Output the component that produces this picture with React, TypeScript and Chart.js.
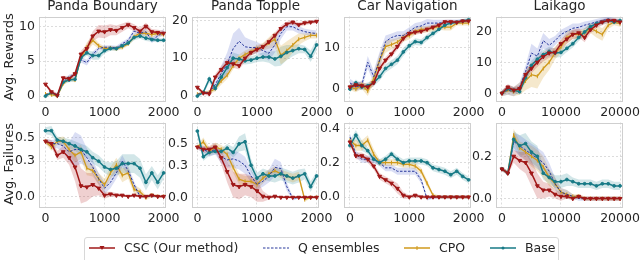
import React, { useEffect, useRef } from "react";
import { Chart, registerables } from "chart.js";
Chart.register(...registerables);

// ---------- data ----------
const STEPS = [0, 100, 200, 300, 400, 500, 600, 700, 800, 900, 1000, 1100, 1200, 1300, 1400, 1500, 1600, 1700, 1800, 1900, 2000];
const STEPS_LAIKAGO = [0, 1000, 2000, 3000, 4000, 5000, 6000, 7000, 8000, 9000, 10000, 11000, 12000, 13000, 14000, 15000, 16000, 17000, 18000, 19000, 20000];
const TITLES = ["Panda Boundary", "Panda Topple", "Car Navigation", "Laikago"];
const SERIES_NAMES = ["CSC (Our method)", "Q ensembles", "CPO", "Base"];
const ROW_LABELS = ["Avg. Rewards", "Avg. Failures"];

const X_TICKS = [0, 1000, 2000];
const X_TICKS_LAIKAGO = [0, 10000, 20000];
const Y_TICKS_BOUNDARY_REW = [0, 5, 10];
const Y_TICKS_TOPPLE_REW = [0, 10, 20];
const Y_TICKS_CAR_REW = [0, 10];
const Y_TICKS_LAIKAGO_REW = [0, 10, 20];
const Y_TICKS_BOUNDARY_FAIL = [0, 0.3, 0.5];
const Y_TICKS_TOPPLE_FAIL = [0, 0.3, 0.5];
const Y_TICKS_CAR_FAIL = [0, 0.2, 0.4];
const Y_TICKS_LAIKAGO_FAIL = [0, 0.2];

// Panda Boundary rewards
const boundaryRewCSC = [1.7, 0.6, 0.1, 2.6, 2.5, 3.2, 6.0, 6.8, 8.6, 9.3, 9.2, 9.5, 9.4, 9.8, 10.2, 9.8, 9.3, 10.0, 9.2, 9.1, 9.0];
const boundaryRewQ = [0.2, 0.5, 0.2, 2.0, 2.8, 3.0, 5.2, 4.8, 6.0, 6.8, 7.0, 7.0, 6.9, 7.5, 8.0, 9.3, 9.0, 9.2, 8.0, 8.6, 9.2];
const boundaryRewCPO = [0.3, 0.2, 0.0, 1.8, 2.5, 2.3, 5.5, 7.0, 8.0, 7.2, 6.8, 6.9, 6.8, 7.0, 7.5, 8.5, 9.0, 9.0, 8.8, 9.0, 8.8];
const boundaryRewBase = [0.0, 0.5, 0.1, 2.0, 2.3, 2.4, 5.5, 6.2, 5.8, 5.8, 6.5, 6.8, 6.8, 7.2, 7.6, 8.4, 8.6, 8.3, 8.1, 8.0, 8.0];
const boundaryRewCSCBand = [0.2, 0.3, 0.3, 0.3, 0.3, 0.4, 0.5, 0.6, 0.7, 0.9, 0.9, 0.8, 0.7, 0.6, 0.5, 0.5, 0.5, 0.5, 0.4, 0.4, 0.4];
const boundaryRewQBand = [0.1, 0.2, 0.2, 0.3, 0.3, 0.3, 0.4, 0.4, 0.4, 0.3, 0.3, 0.3, 0.3, 0.3, 0.3, 0.4, 0.4, 0.4, 0.4, 0.4, 0.4];
const boundaryRewCPOBand = [0.1, 0.2, 0.2, 0.3, 0.3, 0.3, 0.4, 0.7, 0.6, 0.4, 0.3, 0.3, 0.3, 0.3, 0.3, 0.4, 0.4, 0.4, 0.4, 0.4, 0.3];
const boundaryRewBaseBand = [0.1, 0.2, 0.2, 0.3, 0.3, 0.3, 0.4, 0.4, 0.6, 0.6, 0.4, 0.3, 0.3, 0.3, 0.3, 0.4, 0.4, 0.4, 0.3, 0.3, 0.3];

// Panda Topple rewards
const toppleRewCSC = [2.3, 0.8, 0.6, 5.0, 7.0, 8.8, 8.5, 8.0, 10.0, 11.5, 12.3, 13.0, 14.3, 16.0, 17.8, 19.0, 19.5, 18.8, 19.3, 19.5, 19.7];
const toppleRewQ = [0.5, 0.8, 1.0, 3.0, 6.0, 8.5, 12.5, 14.5, 13.0, 12.8, 12.8, 12.0, 11.3, 13.5, 16.5, 18.3, 18.3, 17.5, 17.0, 16.7, 16.5];
const toppleRewCPO = [0.5, 1.0, 1.0, 2.0, 4.0, 5.5, 8.0, 10.0, 11.0, 11.7, 12.5, 13.0, 14.0, 15.0, 10.8, 12.0, 13.5, 15.0, 15.5, 16.0, 16.0];
const toppleRewBase = [0.0, 1.0, 4.5, 2.0, 5.0, 7.5, 10.0, 9.8, 9.3, 9.5, 10.0, 10.3, 10.3, 9.8, 10.5, 11.5, 12.0, 12.5, 12.3, 10.5, 13.5];
const toppleRewCSCBand = [0.5, 0.5, 0.5, 0.8, 1, 1, 1, 1, 1, 0.8, 0.8, 0.8, 0.8, 0.8, 0.8, 0.6, 0.6, 0.6, 0.6, 0.5, 0.5];
const toppleRewQBand = [0.3, 0.3, 0.5, 1, 2, 3, 4, 3.5, 2.5, 2, 1.5, 1.5, 2, 2, 1.5, 1, 1, 1, 0.8, 0.8, 0.8];
const toppleRewCPOBand = [0.3, 0.3, 0.5, 0.8, 1, 1, 1, 1, 1, 1, 1, 1, 1.5, 2, 2.5, 2.5, 2, 1.5, 1, 0.8, 0.8];
const toppleRewBaseBand = [0.3, 0.5, 1, 0.8, 1, 1.5, 1.5, 1.2, 1, 1, 1, 1.2, 1.5, 2, 2.5, 2, 1.5, 1.2, 1, 1.5, 1.5];

// Car Navigation rewards
const carRewCSC = [0.5, 1.0, 0.8, 0.5, 1.5, 5.0, 7.0, 8.5, 10.3, 12.3, 13.5, 13.8, 14.0, 14.5, 15.0, 15.5, 16.3, 16.3, 16.2, 16.5, 16.5];
const carRewQ = [1.5, 0.5, 1.0, 6.5, 3.0, 7.0, 11.5, 12.5, 13.0, 13.0, 14.0, 15.0, 15.3, 16.0, 16.0, 16.0, 16.2, 16.3, 16.4, 16.5, 16.5];
const carRewCPO = [0.5, 0.0, 1.0, -0.5, 2.5, 7.0, 10.3, 10.8, 11.4, 12.5, 13.0, 14.0, 14.5, 14.5, 14.8, 15.2, 15.0, 15.0, 16.0, 16.0, 16.0];
const carRewBase = [0.0, 1.5, 0.5, 0.8, 1.5, 3.0, 5.0, 6.0, 7.0, 9.0, 10.5, 11.5, 11.3, 12.5, 13.5, 14.5, 15.5, 16.0, 16.2, 16.5, 16.8];
const carRewCSCBand = [0.8, 0.8, 0.8, 0.8, 0.8, 0.8, 0.8, 0.8, 0.8, 0.8, 0.6, 0.6, 0.6, 0.6, 0.5, 0.5, 0.5, 0.5, 0.4, 0.4, 0.4];
const carRewQBand = [1, 1, 1, 1.5, 1.5, 2, 1.5, 1, 1, 1, 1, 1, 1, 1, 0.8, 0.8, 0.6, 0.6, 0.5, 0.5, 0.5];
const carRewCPOBand = [0.8, 0.8, 1, 1.2, 1.2, 1.5, 1.5, 1.2, 1, 1, 1, 0.8, 0.8, 0.8, 0.8, 0.8, 0.8, 0.8, 0.6, 0.6, 0.6];
const carRewBaseBand = [0.8, 0.8, 0.8, 0.8, 0.8, 1, 1, 1, 1, 1, 0.8, 0.8, 0.8, 0.8, 0.8, 0.6, 0.6, 0.6, 0.5, 0.5, 0.5];

// Laikago rewards
const laikagoRewCSC = [0.0, 2.0, 1.0, 1.5, 6.0, 8.0, 10.0, 11.8, 13.0, 13.2, 16.0, 17.5, 19.0, 19.5, 18.0, 20.5, 22.0, 23.0, 23.5, 23.5, 23.0];
const laikagoRewQ = [0.0, 1.0, 0.5, 2.0, 7.0, 13.0, 12.0, 17.0, 15.5, 17.0, 19.0, 20.0, 21.0, 21.3, 22.0, 22.5, 23.0, 23.5, 24.0, 23.5, 23.0];
const laikagoRewCPO = [0.0, 1.0, 0.5, 1.5, 4.0, 6.0, 5.5, 8.0, 10.0, 13.0, 15.0, 18.0, 19.0, 19.0, 19.5, 21.0, 20.0, 19.0, 22.0, 23.0, 22.5];
const laikagoRewBase = [0.0, 1.5, 1.0, 0.5, 5.0, 9.0, 11.0, 12.5, 13.5, 13.0, 13.2, 14.5, 16.0, 18.0, 19.8, 21.5, 22.5, 23.0, 23.5, 23.0, 23.5];
const laikagoRewCSCBand = [0.8, 1, 1, 1, 1.5, 1.5, 1.5, 1.5, 1.5, 1.5, 1.5, 1.5, 1.5, 1.5, 1.5, 1.2, 1, 1, 0.8, 0.8, 0.8];
const laikagoRewQBand = [1, 1.5, 1.5, 1.5, 2, 3, 2.5, 2.5, 2, 1.5, 1.5, 1.5, 1.5, 1.2, 1.2, 1, 1, 1, 0.8, 0.8, 0.8];
const laikagoRewCPOBand = [1, 1.5, 1.5, 2, 3, 4, 4, 3, 2.5, 2, 2, 2, 1.5, 1.5, 1.5, 1.5, 2, 2, 1.2, 1, 1];
const laikagoRewBaseBand = [0.8, 1, 1, 1, 1.5, 1.5, 1.5, 1.5, 1.5, 1.5, 1.5, 1.2, 1.2, 1.2, 1.2, 1, 1, 0.8, 0.8, 0.8, 0.8];

// Panda Boundary failures
const boundaryFailCSC = [0.47, 0.45, 0.35, 0.38, 0.33, 0.25, 0.09, 0.08, 0.10, 0.07, 0.01, 0.02, 0.01, 0.01, 0.00, 0.01, 0.00, 0.00, 0.01, 0.00, 0.00];
const boundaryFailQ = [0.47, 0.45, 0.45, 0.43, 0.38, 0.40, 0.40, 0.33, 0.25, 0.15, 0.07, 0.12, 0.20, 0.30, 0.22, 0.10, 0.00, 0.00, 0.00, 0.00, 0.00];
const boundaryFailCPO = [0.47, 0.42, 0.47, 0.47, 0.40, 0.35, 0.38, 0.24, 0.22, 0.15, 0.10, 0.20, 0.27, 0.18, 0.20, 0.06, 0.04, -0.01, 0.01, 0.00, 0.00];
const boundaryFailBase = [0.56, 0.56, 0.48, 0.47, 0.45, 0.43, 0.40, 0.38, 0.33, 0.30, 0.25, 0.23, 0.24, 0.28, 0.28, 0.28, 0.24, 0.12, 0.20, 0.12, 0.20];
const boundaryFailCSCBand = [0.02, 0.03, 0.04, 0.05, 0.06, 0.12, 0.15, 0.12, 0.1, 0.06, 0.03, 0.02, 0.02, 0.01, 0.01, 0.01, 0.01, 0.01, 0.01, 0.01, 0.01];
const boundaryFailQBand = [0.02, 0.03, 0.04, 0.05, 0.08, 0.15, 0.12, 0.08, 0.06, 0.05, 0.05, 0.05, 0.05, 0.05, 0.04, 0.03, 0.02, 0.01, 0.01, 0.01, 0.01];
const boundaryFailCPOBand = [0.02, 0.03, 0.03, 0.04, 0.05, 0.06, 0.06, 0.06, 0.05, 0.05, 0.05, 0.05, 0.06, 0.06, 0.05, 0.04, 0.03, 0.02, 0.02, 0.01, 0.01];
const boundaryFailBaseBand = [0.03, 0.04, 0.03, 0.03, 0.04, 0.04, 0.05, 0.05, 0.05, 0.05, 0.05, 0.06, 0.06, 0.08, 0.08, 0.08, 0.08, 0.07, 0.06, 0.06, 0.05];

// Panda Topple failures
const toppleFailCSC = [0.47, 0.45, 0.45, 0.47, 0.37, 0.24, 0.12, 0.10, 0.12, 0.10, 0.06, 0.01, 0.00, 0.01, 0.00, 0.00, 0.00, 0.00, 0.00, 0.00, 0.00];
const toppleFailQ = [0.47, 0.45, 0.42, 0.45, 0.38, 0.35, 0.36, 0.34, 0.30, 0.20, 0.12, 0.15, 0.20, 0.28, 0.27, 0.10, -0.01, 0.00, 0.00, 0.00, 0.00];
const toppleFailCPO = [0.47, 0.52, 0.43, 0.47, 0.45, 0.40, 0.28, 0.17, 0.15, 0.15, 0.12, 0.18, 0.22, 0.25, 0.22, 0.20, 0.18, 0.20, -0.02, 0.00, 0.00];
const toppleFailBase = [0.62, 0.38, 0.42, 0.43, 0.43, 0.46, 0.42, 0.50, 0.52, 0.30, 0.18, 0.22, 0.20, 0.20, 0.22, 0.20, 0.18, 0.20, 0.22, 0.10, 0.20];
const toppleFailCSCBand = [0.02, 0.03, 0.03, 0.04, 0.06, 0.1, 0.12, 0.12, 0.1, 0.1, 0.1, 0.05, 0.02, 0.01, 0.01, 0.01, 0.01, 0.01, 0.01, 0.01, 0.01];
const toppleFailQBand = [0.02, 0.03, 0.04, 0.05, 0.06, 0.07, 0.08, 0.08, 0.08, 0.06, 0.05, 0.05, 0.06, 0.08, 0.06, 0.04, 0.02, 0.01, 0.01, 0.01, 0.01];
const toppleFailCPOBand = [0.02, 0.04, 0.04, 0.04, 0.04, 0.05, 0.05, 0.05, 0.05, 0.05, 0.05, 0.05, 0.04, 0.04, 0.04, 0.04, 0.04, 0.04, 0.02, 0.01, 0.01];
const toppleFailBaseBand = [0.05, 0.04, 0.03, 0.03, 0.03, 0.04, 0.05, 0.07, 0.08, 0.06, 0.05, 0.05, 0.05, 0.06, 0.06, 0.06, 0.06, 0.06, 0.05, 0.05, 0.04];

// Car Navigation failures
const carFailCSC = [0.32, 0.24, 0.24, 0.22, 0.18, 0.12, 0.10, 0.08, 0.05, 0.01, 0.00, 0.01, 0.00, 0.00, 0.00, 0.00, 0.00, 0.00, 0.00, 0.00, 0.00];
const carFailQ = [0.35, 0.25, 0.22, 0.22, 0.22, 0.20, 0.17, 0.17, 0.15, 0.15, 0.15, 0.15, 0.10, -0.01, 0.00, 0.00, 0.00, 0.00, 0.00, 0.00, 0.00];
const carFailCPO = [0.33, 0.30, 0.30, 0.33, 0.25, 0.20, 0.20, 0.20, 0.20, 0.19, 0.19, 0.18, 0.15, 0.08, 0.01, 0.00, 0.00, 0.00, 0.00, 0.00, 0.00];
const carFailBase = [0.30, 0.36, 0.30, 0.27, 0.22, 0.20, 0.22, 0.25, 0.22, 0.20, 0.21, 0.21, 0.21, 0.20, 0.17, 0.16, 0.15, 0.13, 0.15, 0.12, 0.10];
const carFailCSCBand = [0.02, 0.02, 0.02, 0.02, 0.02, 0.02, 0.02, 0.02, 0.03, 0.02, 0.01, 0.01, 0.01, 0.01, 0.01, 0.01, 0.01, 0.01, 0.01, 0.01, 0.01];
const carFailQBand = [0.02, 0.02, 0.02, 0.02, 0.02, 0.02, 0.02, 0.02, 0.02, 0.02, 0.02, 0.02, 0.02, 0.01, 0.01, 0.01, 0.01, 0.01, 0.01, 0.01, 0.01];
const carFailCPOBand = [0.02, 0.03, 0.03, 0.03, 0.03, 0.02, 0.02, 0.02, 0.02, 0.02, 0.02, 0.02, 0.02, 0.02, 0.01, 0.01, 0.01, 0.01, 0.01, 0.01, 0.01];
const carFailBaseBand = [0.03, 0.03, 0.03, 0.02, 0.02, 0.02, 0.02, 0.02, 0.02, 0.02, 0.02, 0.02, 0.02, 0.02, 0.02, 0.02, 0.02, 0.02, 0.02, 0.02, 0.02];

// Laikago failures
const laikagoFailCSC = [0.14, 0.12, 0.20, 0.18, 0.17, 0.12, 0.06, 0.04, 0.04, 0.02, 0.01, 0.01, 0.00, 0.01, 0.00, 0.00, 0.00, 0.00, 0.00, 0.00, 0.00];
const laikagoFailQ = [0.14, 0.12, 0.27, 0.25, 0.23, 0.21, 0.19, 0.17, 0.13, 0.07, 0.03, 0.02, 0.01, 0.00, 0.00, 0.00, 0.00, 0.00, 0.00, 0.00, 0.00];
const laikagoFailCPO = [0.14, 0.12, 0.30, 0.24, 0.22, 0.20, 0.18, 0.15, 0.10, 0.07, 0.03, 0.02, 0.01, 0.01, 0.00, 0.00, 0.00, 0.00, 0.00, 0.00, 0.00];
const laikagoFailBase = [0.14, 0.12, 0.28, 0.25, 0.26, 0.22, 0.20, 0.12, 0.10, 0.08, 0.08, 0.09, 0.08, 0.07, 0.07, 0.07, 0.06, 0.07, 0.07, 0.06, 0.06];
const laikagoFailCSCBand = [0.01, 0.01, 0.03, 0.04, 0.05, 0.06, 0.06, 0.04, 0.03, 0.02, 0.02, 0.01, 0.01, 0.01, 0.01, 0.01, 0.01, 0.01, 0.01, 0.01, 0.01];
const laikagoFailQBand = [0.01, 0.01, 0.04, 0.05, 0.05, 0.05, 0.05, 0.05, 0.04, 0.03, 0.02, 0.02, 0.01, 0.01, 0.01, 0.01, 0.01, 0.01, 0.01, 0.01, 0.01];
const laikagoFailCPOBand = [0.01, 0.01, 0.03, 0.03, 0.04, 0.05, 0.05, 0.05, 0.04, 0.03, 0.02, 0.02, 0.01, 0.01, 0.01, 0.01, 0.01, 0.01, 0.01, 0.01, 0.01];
const laikagoFailBaseBand = [0.01, 0.01, 0.04, 0.05, 0.05, 0.05, 0.05, 0.03, 0.03, 0.03, 0.03, 0.03, 0.02, 0.02, 0.02, 0.02, 0.02, 0.02, 0.02, 0.02, 0.02];

// ---------- styling ----------
const FONT = "'DejaVu Sans', sans-serif";
const TEXT = "#262626";
const COLORS = ["#a01818", "#28389c", "#d09a1c", "#177a86"];
const BAND_COLORS = ["rgba(180,40,40,0.22)", "rgba(70,90,200,0.2)", "rgba(215,165,50,0.25)", "rgba(30,130,140,0.2)"];

type Panel = {
  steps: number[];
  means: number[][];
  bands: number[][];
  xMin: number; xMax: number; xTicks: number[];
  yMin: number; yMax: number; yTicks: number[];
  dec: number;
};

const P = (steps, means, bands, xMin, xMax, xTicks, yMin, yMax, yTicks, dec): Panel => ({ steps, means, bands, xMin, xMax, xTicks, yMin, yMax, yTicks, dec });

const PANELS: Panel[] = [
  P(STEPS, [boundaryRewCSC, boundaryRewQ, boundaryRewCPO, boundaryRewBase], [boundaryRewCSCBand, boundaryRewQBand, boundaryRewCPOBand, boundaryRewBaseBand], -110, 2040, X_TICKS, -0.7, 11.4, Y_TICKS_BOUNDARY_REW, 0),
  P(STEPS, [toppleRewCSC, toppleRewQ, toppleRewCPO, toppleRewBase], [toppleRewCSCBand, toppleRewQBand, toppleRewCPOBand, toppleRewBaseBand], -90, 2040, X_TICKS, -1.3, 21.0, Y_TICKS_TOPPLE_REW, 0),
  P(STEPS, [carRewCSC, carRewQ, carRewCPO, carRewBase], [carRewCSCBand, carRewQBand, carRewCPOBand, carRewBaseBand], -100, 2040, X_TICKS, -2.9, 17.6, Y_TICKS_CAR_REW, 0),
  P(STEPS_LAIKAGO, [laikagoRewCSC, laikagoRewQ, laikagoRewCPO, laikagoRewBase], [laikagoRewCSCBand, laikagoRewQBand, laikagoRewCPOBand, laikagoRewBaseBand], -1000, 20500, X_TICKS_LAIKAGO, -2.5, 24.8, Y_TICKS_LAIKAGO_REW, 0),
  P(STEPS, [boundaryFailCSC, boundaryFailQ, boundaryFailCPO, boundaryFailBase], [boundaryFailCSCBand, boundaryFailQBand, boundaryFailCPOBand, boundaryFailBaseBand], -110, 2040, X_TICKS, -0.09, 0.63, Y_TICKS_BOUNDARY_FAIL, 1),
  P(STEPS, [toppleFailCSC, toppleFailQ, toppleFailCPO, toppleFailBase], [toppleFailCSCBand, toppleFailQBand, toppleFailCPOBand, toppleFailBaseBand], -90, 2040, X_TICKS, -0.09, 0.70, Y_TICKS_TOPPLE_FAIL, 1),
  P(STEPS, [carFailCSC, carFailQ, carFailCPO, carFailBase], [carFailCSCBand, carFailQBand, carFailCPOBand, carFailBaseBand], -100, 2040, X_TICKS, -0.058, 0.434, Y_TICKS_CAR_FAIL, 1),
  P(STEPS_LAIKAGO, [laikagoFailCSC, laikagoFailQ, laikagoFailCPO, laikagoFailBase], [laikagoFailCSCBand, laikagoFailQBand, laikagoFailCPOBand, laikagoFailBaseBand], -1000, 20500, X_TICKS_LAIKAGO, -0.04, 0.36, Y_TICKS_LAIKAGO_FAIL, 1),
];

// layout (page coordinates of plot areas)
const PLOT_LEFTS = [39, 192, 344, 496];
const PLOT_W = 127;
const PLOT_H = 87;
const ROW_TOPS = [14, 120];
const Y_AXIS_W = 36;
const X_AXIS_H = 20;
const PAD_TOP = 9;
const PAD_RIGHT = 24;

const framePlugin = {
  id: "frame",
  beforeDatasetsDraw(chart) {
    const { ctx, chartArea: a } = chart;
    ctx.save();
    ctx.strokeStyle = "#cfcfcf";
    ctx.lineWidth = 1;
    ctx.strokeRect(Math.round(a.left) + 0.5, Math.round(a.top) + 0.5, Math.round(a.right - a.left) - 1, Math.round(a.bottom - a.top) - 1);
    ctx.restore();
  },
};

function PanelChart({ cfg, left, top }: { cfg: Panel; left: number; top: number }) {
  const ref = useRef<HTMLCanvasElement>(null);
  useEffect(() => {
    const datasets: any[] = [];
    // bands
    cfg.means.forEach((m, s) => {
      const lowerIdx = datasets.length;
      datasets.push({
        data: cfg.steps.map((x, i) => ({ x, y: m[i] - cfg.bands[s][i] })),
        borderWidth: 0, borderColor: "rgba(0,0,0,0)", pointRadius: 0, fill: false, order: 100 + s,
      });
      datasets.push({
        data: cfg.steps.map((x, i) => ({ x, y: m[i] + cfg.bands[s][i] })),
        borderWidth: 0, borderColor: "rgba(0,0,0,0)", pointRadius: 0, fill: lowerIdx,
        backgroundColor: BAND_COLORS[s], order: 100 + s,
      });
    });
    // lines
    const styles = [
      { borderWidth: 1.5, pointStyle: "triangle", rotation: 180, pointRadius: 2.2, order: 1 },
      { borderWidth: 1, borderDash: [2.5, 1.5], pointRadius: 0, order: 3 },
      { borderWidth: 1.3, pointStyle: "line", rotation: 90, pointRadius: 2, order: 4 },
      { borderWidth: 1.5, pointStyle: "circle", pointRadius: 1.4, order: 2 },
    ];
    cfg.means.forEach((m, s) => {
      datasets.push({
        label: SERIES_NAMES[s],
        data: cfg.steps.map((x, i) => ({ x, y: m[i] })),
        borderColor: COLORS[s], backgroundColor: COLORS[s], pointBorderColor: COLORS[s],
        pointBackgroundColor: COLORS[s], pointBorderWidth: 1, fill: false, tension: 0,
        ...styles[s],
      });
    });
    const tickFont = { family: FONT, size: 12.5 };
    const chart = new Chart(ref.current!, {
      type: "line",
      data: { datasets },
      plugins: [framePlugin],
      options: {
        responsive: false,
        animation: false,
        events: [],
        layout: { padding: { left: 0, top: PAD_TOP, right: PAD_RIGHT, bottom: 0 } },
        plugins: { legend: { display: false }, tooltip: { enabled: false }, title: { display: false } },
        scales: {
          x: {
            type: "linear", min: cfg.xMin, max: cfg.xMax,
            afterBuildTicks: (s) => { s.ticks = cfg.xTicks.map((v) => ({ value: v })); },
            afterFit: (s) => { s.height = X_AXIS_H; },
            grid: { color: "#d4d4d4", lineWidth: 0.8, drawTicks: false },
            border: { display: false, dash: [2, 2] },
            ticks: { font: tickFont, color: TEXT, padding: 4, maxRotation: 0, autoSkip: false, callback: (v) => String(v) },
          },
          y: {
            type: "linear", min: cfg.yMin, max: cfg.yMax,
            afterBuildTicks: (s) => { s.ticks = cfg.yTicks.map((v) => ({ value: v })); },
            afterFit: (s) => { s.width = Y_AXIS_W; },
            grid: { color: "#d4d4d4", lineWidth: 0.8, drawTicks: false },
            border: { display: false, dash: [2, 2] },
            ticks: { font: tickFont, color: TEXT, padding: 4, autoSkip: false, callback: (v) => Number(v).toFixed(cfg.dec) },
          },
        },
      },
    });
    return () => chart.destroy();
  }, [cfg]);
  const w = Y_AXIS_W + PLOT_W + PAD_RIGHT;
  const h = PAD_TOP + PLOT_H + X_AXIS_H;
  return (
    <canvas ref={ref} width={w} height={h}
      style={{ position: "absolute", left: left - Y_AXIS_W, top: top - PAD_TOP, width: w, height: h }} />
  );
}

function LegendSymbol({ s }: { s: number }) {
  const c = COLORS[s];
  return (
    <svg width={26} height={10} style={{ display: "block" }}>
      {s === 1 ? (
        <line x1={0} y1={5} x2={26} y2={5} stroke={c} strokeWidth={1} strokeDasharray="2.5 1.5" />
      ) : (
        <line x1={0} y1={5} x2={26} y2={5} stroke={c} strokeWidth={1.5} />
      )}
      {s === 0 && <polygon points="10.5,3 15.5,3 13,7" fill={c} />}
      {s === 2 && <line x1={13} y1={3} x2={13} y2={7} stroke={c} strokeWidth={1} />}
      {s === 3 && <circle cx={13} cy={5} r={1.5} fill={c} />}
    </svg>
  );
}

const LEGEND_ITEMS_X = [89, 263, 404, 490];

export default function App() {
  const textStyle: React.CSSProperties = { position: "absolute", fontFamily: FONT, color: TEXT, whiteSpace: "nowrap", lineHeight: 1 };
  return (
    <div style={{ position: "absolute", left: 0, top: 0, width: 640, height: 260, background: "#fff", overflow: "hidden" }}>
      {PANELS.map((cfg, i) => (
        <PanelChart key={i} cfg={cfg} left={PLOT_LEFTS[i % 4]} top={ROW_TOPS[Math.floor(i / 4)]} />
      ))}
      {TITLES.map((t, i) => (
        <div key={t} style={{ ...textStyle, fontSize: 13.5, left: PLOT_LEFTS[i] + PLOT_W / 2, top: -1, transform: "translateX(-50%)" }}>{t}</div>
      ))}
      {ROW_LABELS.map((t, r) => (
        <div key={t} style={{ ...textStyle, fontSize: 13, left: 8, top: r === 0 ? 57 : 164, transform: "translate(-50%,-50%) rotate(-90deg)" }}>{t}</div>
      ))}
      <div style={{ position: "absolute", left: 84, top: 237, width: 475, height: 30, border: "1px solid #d8d8d8", borderRadius: 3, boxSizing: "border-box" }} />
      {SERIES_NAMES.map((n, s) => (
        <React.Fragment key={n}>
          <div style={{ position: "absolute", left: LEGEND_ITEMS_X[s], top: 243 }}><LegendSymbol s={s} /></div>
          <div style={{ ...textStyle, fontSize: 12.5, left: LEGEND_ITEMS_X[s] + 35, top: 242 }}>{n}</div>
        </React.Fragment>
      ))}
    </div>
  );
}
